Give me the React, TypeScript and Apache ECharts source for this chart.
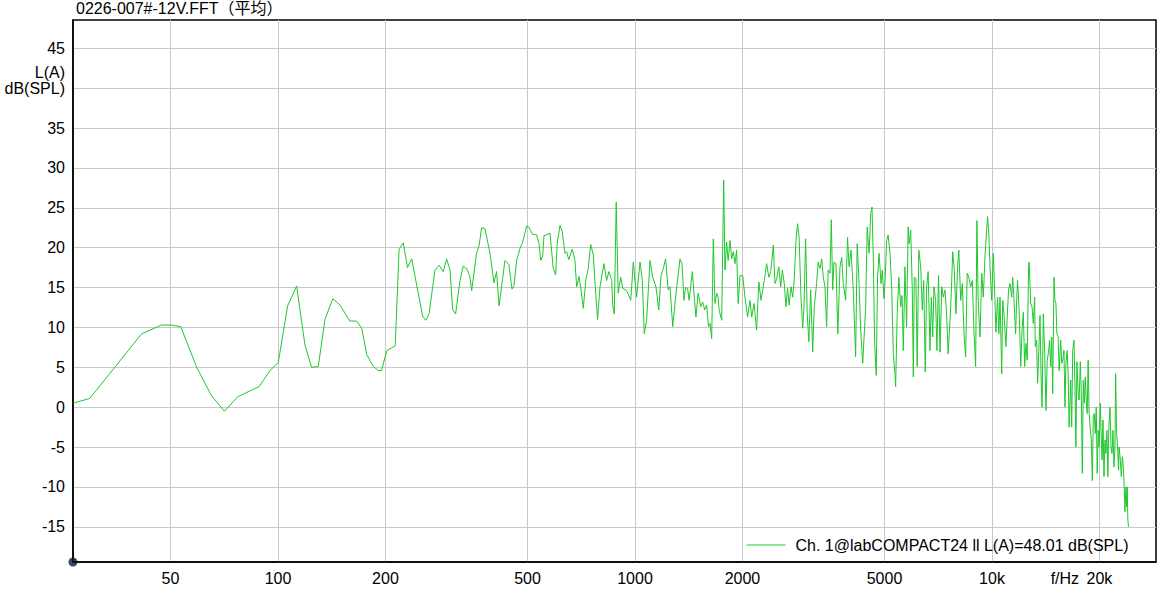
import React, { useEffect, useRef } from "react";
import * as echarts from "echarts";

// ---------- data ----------
const chartTitle = "0226-007#-12V.FFT（平均）";
const seriesName = "Ch. 1@labCOMPACT24 ll L(A)=48.01 dB(SPL)";

const lowFreqs = [26.7, 29.7, 34.9, 41.5, 47.2, 50.4, 53.4, 59.2, 65.2, 70.8, 77.1, 88.6, 95.0, 100.2, 106.4, 112.8, 119.0, 124.2, 129.7, 135.4, 142.4, 149.2, 159.0, 166.0, 171.6, 177.3, 184.9, 191.0, 195.0, 201.8, 213.0];
const lowLevels = [0.5, 1.1, 5.0, 9.2, 10.3, 10.3, 10.1, 5.0, 1.4, -0.5, 1.3, 2.6, 4.6, 5.6, 12.7, 15.2, 7.8, 5.0, 5.1, 11.0, 13.6, 12.8, 10.8, 10.8, 9.9, 6.6, 5.1, 4.6, 4.6, 7.1, 7.7];

const midFreqs = [218.4, 224.4, 230.6, 236.9, 254.3, 259.6, 265.0, 275.2, 282.7, 290.4, 296.7, 303.3, 308.6, 314.5, 323.5, 330.4, 338.8, 345.0, 348.8, 360.0, 365.9, 372.0, 380.0, 392.5, 402.7, 409.6, 416.2, 432.3, 443.2, 452.4, 458.2, 466.1, 476.3, 484.7, 497.1, 504.2, 515.6, 530.1, 538.7, 544.4, 551.4, 556.0, 578.0, 590.4, 599.4, 605.5, 616.5, 625.7, 636.5, 643.4, 652.6, 667.5, 679.0, 686.3, 697.4, 706.0, 716.5, 728.8, 739.3, 751.6, 764.3, 774.0, 785.6, 798.0, 818.7, 832.8, 844.7, 860.6, 866.2, 875.0, 886.1, 897.2, 912.1, 923.9, 943.3, 956.9, 972.9, 989.2, 999.9, 1010.6, 1032.9, 1048.4, 1061.8, 1077.9, 1101.7, 1121.1, 1144.7, 1166.1, 1182.7, 1200.4, 1218.6, 1238.6, 1253.4, 1275.5, 1299.8, 1336.9, 1354.3, 1371.7, 1386.4, 1403.7, 1417.8, 1447.4, 1465.9, 1481.6, 1503.0, 1528.0, 1547.8, 1567.5, 1587.3, 1607.1, 1622.3, 1640.1, 1657.2, 1675.0, 1693.0, 1709.9, 1720.4, 1749.4, 1771.9, 1786.6, 1805.8, 1823.8, 1845.7, 1866.0, 1885.4, 1905.7, 1926.2, 1945.4, 1968.7, 2003.3, 2032.7, 2067.1];
const midLevels = [19.8, 20.6, 17.5, 18.6, 11.4, 10.9, 11.7, 17.2, 17.8, 17.0, 18.6, 17.2, 12.2, 11.7, 15.9, 17.7, 17.3, 16.3, 14.6, 19.3, 20.3, 22.5, 22.4, 19.3, 15.6, 17.0, 12.7, 18.4, 17.9, 14.8, 15.3, 18.4, 19.9, 20.7, 22.7, 22.6, 21.7, 21.6, 20.5, 18.4, 19.0, 21.5, 21.8, 17.4, 16.6, 20.5, 22.8, 22.0, 19.3, 19.5, 18.5, 19.8, 18.4, 15.1, 16.4, 14.7, 12.4, 16.1, 17.3, 20.4, 19.1, 15.1, 11.0, 15.1, 18.0, 15.9, 17.0, 15.9, 12.8, 11.7, 25.7, 14.3, 16.3, 14.9, 14.7, 14.2, 13.4, 18.2, 15.9, 13.8, 18.2, 15.9, 9.2, 10.9, 18.4, 16.3, 15.1, 12.2, 16.5, 17.4, 18.6, 14.7, 15.1, 10.1, 13.8, 18.6, 18.0, 13.4, 15.0, 14.9, 13.4, 17.0, 13.8, 11.3, 14.3, 12.6, 13.2, 12.2, 12.8, 10.1, 10.5, 8.6, 21.1, 13.0, 14.3, 13.8, 12.2, 10.9, 28.5, 17.2, 20.7, 18.4, 20.9, 18.6, 19.5, 18.0, 19.7, 13.0, 16.5, 16.5, 13.8, 11.3];

const highFreqs = [2099.9, 2123.0, 2154.5, 2191.5, 2222.7, 2254.4, 2279.2, 2302.5, 2337.5, 2370.8, 2400.0, 2440.4, 2466.6, 2493.2, 2528.8, 2559.9, 2586.4, 2619.5, 2647.6, 2675.6, 2702.4, 2735.7, 2765.8, 2794.1, 2824.0, 2853.9, 2882.4, 2917.4, 2949.6, 2974.0, 3005.9, 3036.3, 3068.2, 3105.9, 3146.1, 3178.3, 3226.5, 3258.6, 3297.7, 3334.0, 3368.6, 3404.9, 3441.5, 3475.8, 3517.4, 3547.3, 3579.3, 3608.9, 3654.6, 3700.3, 3751.8, 3793.1, 3832.5, 3890.6, 3939.4, 3978.8, 4027.8, 4087.8, 4149.9, 4191.9, 4235.9, 4288.0, 4343.5, 4426.3, 4471.1, 4526.6, 4573.7, 4612.0, 4650.7, 4692.1, 4739.5, 4780.4, 4828.2, 4887.7, 4928.9, 4982.4, 5023.6, 5067.8, 5118.3, 5179.7, 5236.7, 5291.1, 5348.0, 5371.3, 5425.7, 5482.7, 5550.3, 5596.7, 5643.7, 5704.5, 5765.8, 5823.2, 5859.2, 5920.1, 5981.4, 6019.7, 6058.0, 6122.8, 6172.9, 6237.7, 6314.5, 6379.9, 6436.5, 6502.5, 6559.7, 6625.0, 6704.4, 6761.4, 6822.4, 6878.7, 6952.5, 7009.5, 7083.9, 7151.1, 7229.8, 7304.9, 7383.5, 7462.9, 7537.3, 7627.7, 7677.3, 7762.0, 7841.3, 7925.2, 8009.1, 8073.9, 8173.3, 8257.9, 8347.4, 8436.9, 8522.4, 8611.9, 8717.9, 8808.2, 8903.6, 8999.1, 9072.8, 9146.6, 9256.2, 9358.0, 9455.2, 9557.0, 9659.8, 9719.0, 9797.7, 9872.9, 9981.5, 10085, 10194, 10258, 10367, 10451];
const highLevels = [13.4, 11.3, 13.0, 9.7, 15.7, 13.4, 14.7, 15.9, 18.0, 16.3, 17.0, 20.3, 15.5, 16.1, 17.6, 15.1, 17.2, 15.5, 12.6, 14.9, 12.8, 15.1, 13.8, 16.1, 20.9, 23.0, 21.3, 13.8, 9.9, 12.6, 21.1, 11.9, 8.2, 14.7, 6.9, 12.6, 15.5, 18.2, 17.4, 18.6, 16.3, 15.1, 10.1, 17.2, 16.8, 23.5, 14.7, 18.2, 18.0, 9.2, 17.6, 18.8, 15.5, 13.4, 21.3, 17.6, 19.7, 14.7, 6.3, 20.5, 16.3, 9.7, 5.5, 12.4, 22.6, 19.3, 24.3, 25.1, 18.8, 8.0, 4.0, 16.3, 19.3, 15.5, 17.2, 13.6, 16.3, 20.9, 21.6, 19.3, 14.9, 6.7, 4.2, 2.6, 11.7, 16.3, 12.6, 14.0, 7.1, 17.6, 10.1, 22.6, 20.5, 22.2, 14.7, 3.8, 16.3, 16.1, 5.1, 19.7, 17.6, 12.2, 15.9, 4.4, 15.1, 17.0, 7.1, 13.8, 8.8, 15.1, 13.4, 7.1, 16.5, 6.9, 15.1, 13.8, 14.7, 11.7, 6.7, 10.9, 13.4, 19.5, 17.2, 11.7, 17.6, 19.7, 13.4, 15.5, 9.2, 6.3, 16.8, 16.3, 15.1, 15.9, 9.4, 5.1, 23.4, 13.4, 8.8, 16.8, 13.8, 18.8, 22.2, 23.9, 21.8, 17.6, 13.4, 19.3, 13.4, 9.4, 13.8, 9.2];

const topFreqs = [10531, 10647, 10716, 10805, 10942, 11031, 11127, 11232, 11356, 11430, 11524, 11648, 11722, 11794, 11912, 12036, 12137, 12238, 12347, 12448, 12550, 12659, 12706, 12838, 12945, 13054, 13170, 13220, 13336, 13418, 13527, 13631, 13719, 13808, 13924, 14048, 14162, 14278, 14402, 14491, 14605, 14698, 14794, 14916, 15010, 15105, 15199, 15323, 15417, 15578, 15677, 15779, 15909, 16010, 16111, 16243, 16344, 16444, 16615, 16721, 16830, 16969, 17077, 17184, 17292, 17432, 17540, 17677, 17791, 17906, 18021, 18135, 18250, 18365, 18479, 18594, 18709, 18854, 18977, 19099, 19221, 19344, 19466, 19588, 19711, 19833, 19955, 20110, 20241, 20331, 20461, 20592, 20722, 20853, 20983, 21114, 21244, 21407, 21546, 21685, 21824, 21964, 22103, 22199, 22340, 22477, 22619, 22702, 22880, 23028, 23177, 23325, 23428, 23576, 23725, 23830, 23919, 24021, 24126];
const topLevels = [13.8, 4.2, 13.4, 11.7, 7.6, 11.3, 14.7, 15.5, 13.8, 16.3, 13.4, 9.2, 13.4, 15.9, 12.2, 5.1, 9.7, 11.9, 5.1, 8.0, 5.9, 17.6, 18.2, 13.0, 12.6, 10.5, 13.8, 7.6, 8.4, 3.0, 7.1, 11.5, 4.2, 0.0, 11.7, 6.7, -0.4, 5.9, 6.9, 8.4, 5.1, 8.8, 1.7, 16.3, 13.4, 13.0, 9.2, 8.8, 4.6, 8.4, 5.5, 5.9, 7.1, 0.0, 5.5, 7.1, 4.2, -2.5, 3.4, -2.5, 7.1, 8.4, 2.6, -5.0, 5.7, 1.7, 0.9, 5.7, 1.7, -8.3, 3.4, 0.5, 3.8, 0.9, -0.8, 5.9, -0.8, -2.9, -4.1, -9.2, -1.2, -0.8, -3.3, 0.0, -8.3, -2.9, -5.0, 0.5, -4.1, -6.6, -1.6, -8.7, -4.1, -5.8, -2.9, -8.7, -2.5, 0.0, -5.0, -5.8, -2.9, -7.5, -5.0, 4.2, -3.3, -5.0, -7.9, -5.0, -6.6, -8.7, -6.2, -7.5, -9.2, -13.1, -10.0, -12.5, -10.0, -14.2, -15.0];

const xTickValues = [50, 100, 200, 500, 1000, 2000, 5000, 10000, 20000];
const xUnitPosition = 16000; // where "f/Hz" sits on the frequency scale
const yTickValues = [-15, -10, -5, 0, 5, 10, 15, 20, 25, 30, 35, 40, 45];
const yUnitTick = 40;

const X_MIN = 26.66;
const X_MAX = 28800;
const Y_MIN = -19.41;
const Y_MAX = 48.55;

const FONT = '"Liberation Sans", Arial, "Noto Sans CJK SC", sans-serif';
const LINE_COLOR = "#1fc82d";

export default function App() {
  const ref = useRef<HTMLDivElement>(null);

  useEffect(() => {
    if (!ref.current) return;
    const chart = echarts.init(ref.current, null, { renderer: "svg" });

    const freqs = [...lowFreqs, ...midFreqs, ...highFreqs, ...topFreqs];
    const levels = [...lowLevels, ...midLevels, ...highLevels, ...topLevels];
    const lineData = freqs.map((f, i) => [f, levels[i]]);

    chart.setOption({
      animation: false,
      textStyle: { fontFamily: FONT },
      title: {
        text: chartTitle,
        left: 76,
        top: 0,
        padding: 0,
        textStyle: { fontSize: 16, fontWeight: "normal", color: "#000", fontFamily: FONT },
      },
      grid: {
        left: 73,
        right: 2,
        top: 20,
        bottom: 34,
        show: true,
        borderColor: "#000",
        borderWidth: 1.5,
        backgroundColor: "transparent",
      },
      legend: {
        data: [seriesName],
        left: 746,
        top: 537,
        padding: 0,
        itemWidth: 39,
        itemHeight: 14,
        itemStyle: { opacity: 0 },
        lineStyle: { color: LINE_COLOR, width: 1 },
        textStyle: { fontSize: 16, color: "#000", fontFamily: FONT, padding: [0, 0, 0, 5] },
      },
      xAxis: {
        type: "log",
        logBase: 10,
        min: X_MIN,
        max: X_MAX,
        axisLine: { show: true, onZero: false, lineStyle: { color: "#000", width: 1.5 } },
        axisTick: { show: false, customValues: xTickValues },
        minorTick: { show: false },
        splitLine: { show: true, lineStyle: { color: "#c8c8c8", width: 1 } },
        axisLabel: {
          customValues: [...xTickValues, xUnitPosition],
          fontSize: 16,
          color: "#000",
          margin: 8,
          fontFamily: FONT,
          formatter: (v: number) => {
            if (Math.abs(v - xUnitPosition) < 1) return "f/Hz";
            if (v >= 10000) return Math.round(v / 1000) + "k";
            return String(Math.round(v));
          },
        },
      },
      yAxis: {
        type: "value",
        min: Y_MIN,
        max: Y_MAX,
        axisLine: { show: true, onZero: false, lineStyle: { color: "#000", width: 1.5 } },
        axisTick: { show: false, customValues: yTickValues },
        splitLine: { show: true, lineStyle: { color: "#c8c8c8", width: 1 } },
        axisLabel: {
          customValues: yTickValues,
          fontSize: 16,
          lineHeight: 16,
          color: "#000",
          margin: 8,
          fontFamily: FONT,
          formatter: (v: number) => (Math.abs(v - yUnitTick) < 0.01 ? "L(A)\ndB(SPL)\n " : String(Math.round(v))),
        },
      },
      series: [
        {
          name: seriesName,
          type: "line",
          data: lineData,
          symbol: "none",
          showSymbol: false,
          lineStyle: { color: LINE_COLOR, width: 1 },
          itemStyle: { color: LINE_COLOR },
          z: 2,
        },
        {
          name: "origin",
          type: "scatter",
          data: [[X_MIN, Y_MIN]],
          symbol: "circle",
          symbolSize: 9,
          itemStyle: { color: "#0b1930" },
          clip: false,
          silent: true,
          z: 5,
        },
      ],
    });

    return () => chart.dispose();
  }, []);

  return (
    <div
      ref={ref}
      style={{ position: "fixed", left: 0, top: 0, width: 1158, height: 596, background: "#fff" }}
    />
  );
}
